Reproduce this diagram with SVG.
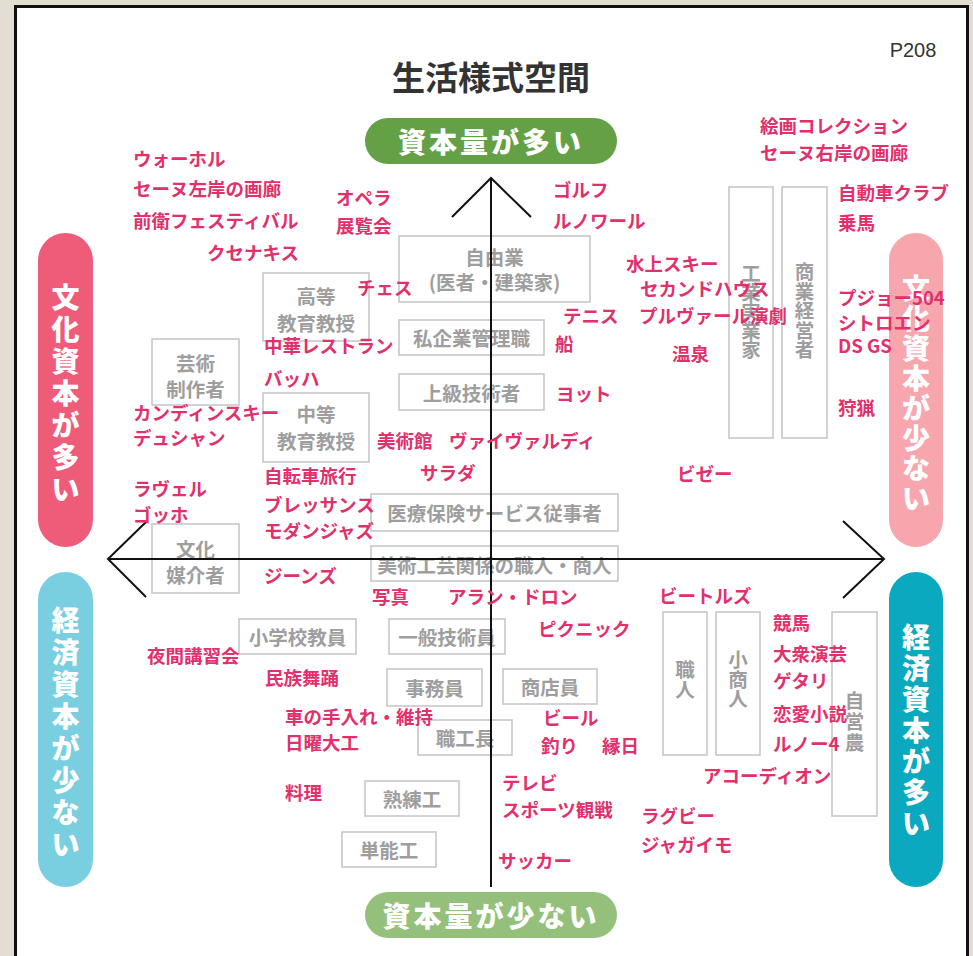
<svg xmlns="http://www.w3.org/2000/svg" width="973" height="956" viewBox="0 0 973 956">
<defs>
<style>
text{font-family:"Noto Sans CJK JP","Noto Sans",sans-serif;font-weight:bold;}
.lb{fill:#e2306c;font-size:18.5px;dominant-baseline:central;font-weight:900;}
.bx rect{fill:none;stroke:#c4c4c4;stroke-width:1.5;}
.bx text{fill:#9e9e9e;font-size:19.5px;dominant-baseline:central;text-anchor:middle;}
.vt{fill:#9e9e9e;font-size:18.5px;dominant-baseline:central;text-anchor:middle;}
.pt{fill:#fff;font-size:28px;dominant-baseline:central;text-anchor:middle;font-weight:900;}
.ax{stroke:#111;stroke-width:2;fill:none;}
</style>
</defs>
<rect x="0" y="0" width="973" height="956" fill="#e3ddd2"/>
<rect x="15.5" y="6.5" width="952" height="1000" fill="#fff" stroke="#111" stroke-width="3"/>
<text x="491" y="76" font-size="33" fill="#333" text-anchor="middle" dominant-baseline="central" font-weight="900">生活様式空間</text>
<text x="913" y="50" font-size="20" fill="#333" text-anchor="middle" dominant-baseline="central" style="font-family:'Liberation Sans',sans-serif;font-weight:normal">P208</text>

<g id="pills">
<g id="pill-top"><rect x="365" y="118" width="252" height="46" rx="23" fill="#64a046"/><text class="pt" x="491" y="141" letter-spacing="3">資本量が多い</text></g>
<g id="pill-bottom"><rect x="365" y="892" width="252" height="46" rx="23" fill="#94c07c"/><text class="pt" x="491" y="915" letter-spacing="3">資本量が少ない</text></g>
<g id="pill-left-top"><rect x="38" y="233" width="55" height="314" rx="27.5" fill="#ef5c79"/>
<text class="pt"><tspan x="65.5" y="296">文</tspan><tspan x="65.5" y="328">化</tspan><tspan x="65.5" y="360">資</tspan><tspan x="65.5" y="392">本</tspan><tspan x="65.5" y="424">が</tspan><tspan x="65.5" y="456">多</tspan><tspan x="65.5" y="488">い</tspan></text></g>
<g id="pill-left-bottom"><rect x="38" y="572" width="55" height="315" rx="27.5" fill="#79cfe0"/>
<text class="pt"><tspan x="65.5" y="619">経</tspan><tspan x="65.5" y="651">済</tspan><tspan x="65.5" y="683">資</tspan><tspan x="65.5" y="715">本</tspan><tspan x="65.5" y="747">が</tspan><tspan x="65.5" y="779">少</tspan><tspan x="65.5" y="811">な</tspan><tspan x="65.5" y="843">い</tspan></text></g>
<g id="pill-right-top"><rect x="889" y="233" width="54" height="314" rx="27" fill="#f7a6ae"/>
<text class="pt"><tspan x="916" y="287">文</tspan><tspan x="916" y="317">化</tspan><tspan x="916" y="347">資</tspan><tspan x="916" y="377">本</tspan><tspan x="916" y="407">が</tspan><tspan x="916" y="437">少</tspan><tspan x="916" y="467">な</tspan><tspan x="916" y="497">い</tspan></text></g>
<g id="pill-right-bottom"><rect x="889" y="572" width="54" height="315" rx="27" fill="#0aa9bf"/>
<text class="pt"><tspan x="916" y="636">経</tspan><tspan x="916" y="667">済</tspan><tspan x="916" y="698">資</tspan><tspan x="916" y="729">本</tspan><tspan x="916" y="760">が</tspan><tspan x="916" y="791">多</tspan><tspan x="916" y="822">い</tspan></text></g>
</g>

<g id="boxes" class="bx">
<g id="jiyugyo"><rect x="399" y="236" width="191" height="66"/><text x="494.5" y="256">自由業</text><text x="494.5" y="281">(医者・建築家)</text></g>
<g id="shikigyo"><rect x="399" y="320" width="145" height="35"/><text x="471.5" y="337.5">私企業管理職</text></g>
<g id="jokyu"><rect x="399" y="374" width="145" height="36"/><text x="471.5" y="392">上級技術者</text></g>
<g id="koto"><rect x="263" y="273" width="106" height="68"/><text x="316" y="295">高等</text><text x="316" y="322">教育教授</text></g>
<g id="geijutsu"><rect x="152" y="339" width="87" height="66"/><text x="195.5" y="362">芸術</text><text x="195.5" y="388">制作者</text></g>
<g id="chuto"><rect x="263" y="393" width="106" height="69"/><text x="316" y="413">中等</text><text x="316" y="440">教育教授</text></g>
<g id="bunka"><rect x="152" y="524" width="87" height="69"/><text x="195.5" y="548">文化</text><text x="195.5" y="574">媒介者</text></g>
<g id="iryo"><rect x="371" y="494" width="247" height="37"/><text x="494.5" y="512.5">医療保険サービス従事者</text></g>
<g id="bijutsu"><rect x="371" y="546" width="247" height="35"/><text x="494.5" y="564">美術工芸関係の職人・商人</text></g>
<g id="shogakko"><rect x="239" y="619" width="117" height="35"/><text x="297.5" y="636.5">小学校教員</text></g>
<g id="ippan"><rect x="389" y="619" width="116" height="35"/><text x="447" y="636.5">一般技術員</text></g>
<g id="jimu"><rect x="387" y="669" width="95" height="37"/><text x="434.5" y="687.5">事務員</text></g>
<g id="shoten"><rect x="503" y="669" width="94" height="35"/><text x="550" y="686.5">商店員</text></g>
<g id="shokkocho"><rect x="418" y="720" width="94" height="35"/><text x="465" y="737.5">職工長</text></g>
<g id="jukuren"><rect x="365" y="781" width="94" height="35"/><text x="412" y="798.5">熟練工</text></g>
<g id="tanno"><rect x="342" y="832" width="94" height="35"/><text x="389" y="849.5">単能工</text></g>
<g id="kogyo"><rect x="729" y="187" width="44" height="251"/><text class="vt"><tspan x="751" y="272">工</tspan><tspan x="751" y="291">業</tspan><tspan x="751" y="310">実</tspan><tspan x="751" y="329">業</tspan><tspan x="751" y="348">家</tspan></text></g>
<g id="shogyo"><rect x="782" y="187" width="45" height="251"/><text class="vt"><tspan x="804.5" y="270">商</tspan><tspan x="804.5" y="289.5">業</tspan><tspan x="804.5" y="309">経</tspan><tspan x="804.5" y="328.5">営</tspan><tspan x="804.5" y="348">者</tspan></text></g>
<g id="shokunin"><rect x="663" y="612" width="44" height="143"/><text class="vt"><tspan x="685" y="668">職</tspan><tspan x="685" y="688">人</tspan></text></g>
<g id="koshonin"><rect x="716" y="612" width="44" height="143"/><text class="vt"><tspan x="738" y="658">小</tspan><tspan x="738" y="677.5">商</tspan><tspan x="738" y="697">人</tspan></text></g>
<g id="jieino"><rect x="832" y="612" width="45" height="204"/><text class="vt"><tspan x="854.5" y="699">自</tspan><tspan x="854.5" y="720">営</tspan><tspan x="854.5" y="741">農</tspan></text></g>
</g>

<g id="connectors" class="ax">
<line x1="491" y1="178" x2="491" y2="887"/>
<polyline points="452,217 491,178 531,217"/>
<line x1="108" y1="559" x2="884" y2="559"/>
<polyline points="146,522 108,559 146,597"/>
<polyline points="843,521 884,559 843,598"/>
</g>

<g id="labels" class="lb">
<text x="133" y="158">ウォーホル</text>
<text x="133" y="188">セーヌ左岸の画廊</text>
<text x="133" y="220">前衛フェスティバル</text>
<text x="207" y="252">クセナキス</text>
<text x="336" y="197">オペラ</text>
<text x="336" y="225">展覧会</text>
<text x="357" y="287">チェス</text>
<text x="264" y="345">中華レストラン</text>
<text x="264" y="378">バッハ</text>
<text x="133" y="412">カンディンスキー</text>
<text x="133" y="437">デュシャン</text>
<text x="133" y="488">ラヴェル</text>
<text x="133" y="514">ゴッホ</text>
<text x="377" y="440">美術館</text>
<text x="449" y="440">ヴァイヴァルディ</text>
<text x="420" y="472">サラダ</text>
<text x="264" y="475">自転車旅行</text>
<text x="264" y="504">ブレッサンス</text>
<text x="264" y="530">モダンジャズ</text>
<text x="264" y="575">ジーンズ</text>
<text x="372" y="596">写真</text>
<text x="448" y="596">アラン・ドロン</text>
<text x="553" y="189">ゴルフ</text>
<text x="553" y="220">ルノワール</text>
<text x="760" y="125">絵画コレクション</text>
<text x="760" y="152">セーヌ右岸の画廊</text>
<text x="838" y="192">自動車クラブ</text>
<text x="838" y="222">乗馬</text>
<text x="626" y="263">水上スキー</text>
<text x="640" y="288">セカンドハウス</text>
<text x="563" y="315">テニス</text>
<text x="639" y="315">プルヴァール演劇</text>
<text x="838" y="297">プジョー504</text>
<text x="838" y="322">シトロエン</text>
<text x="838" y="345">DS GS</text>
<text x="555" y="343">船</text>
<text x="672" y="353">温泉</text>
<text x="556" y="393">ヨット</text>
<text x="838" y="407">狩猟</text>
<text x="677" y="473">ビゼー</text>
<text x="659" y="595">ビートルズ</text>
<text x="538" y="628">ピクニック</text>
<text x="773" y="622">競馬</text>
<text x="773" y="653">大衆演芸</text>
<text x="773" y="680">ゲタリ</text>
<text x="773" y="713">恋愛小説</text>
<text x="773" y="743">ルノー4</text>
<text x="543" y="717">ビール</text>
<text x="541" y="745">釣り</text>
<text x="602" y="745">縁日</text>
<text x="703" y="775">アコーディオン</text>
<text x="502" y="782">テレビ</text>
<text x="502" y="809">スポーツ観戦</text>
<text x="641" y="815">ラグビー</text>
<text x="641" y="844">ジャガイモ</text>
<text x="498" y="860">サッカー</text>
<text x="147" y="655">夜間講習会</text>
<text x="265" y="677">民族舞踊</text>
<text x="285" y="716">車の手入れ・維持</text>
<text x="285" y="742">日曜大工</text>
<text x="285" y="792">料理</text>
</g>
</svg>
